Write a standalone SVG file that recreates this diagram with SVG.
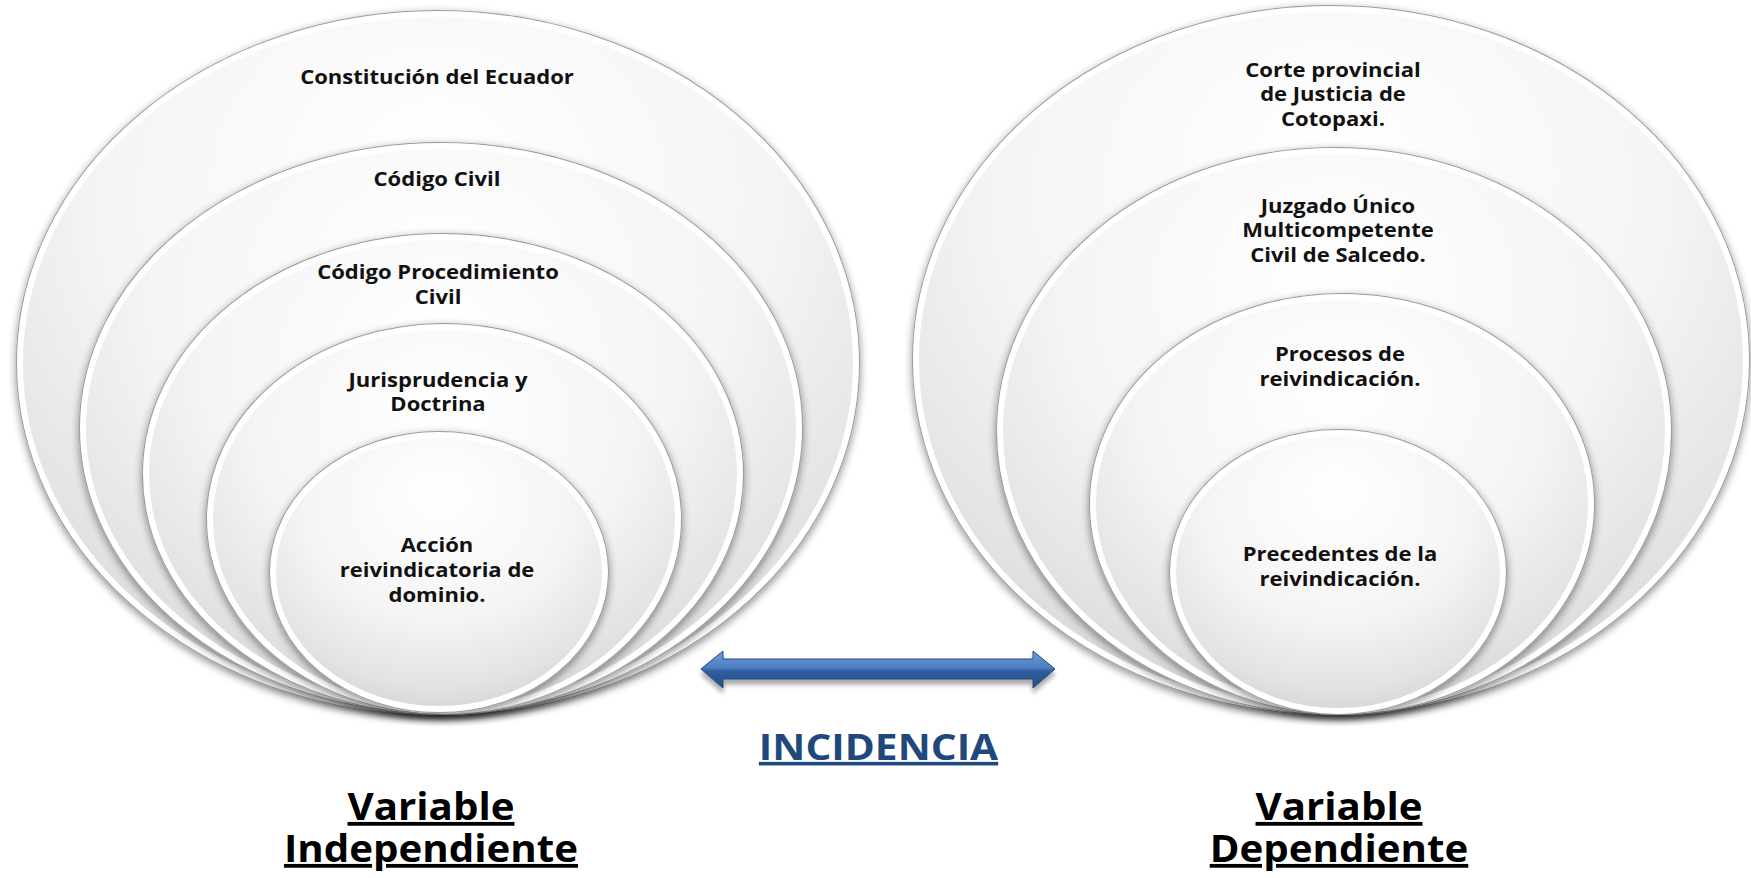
<svg xmlns="http://www.w3.org/2000/svg" width="1751" height="878" viewBox="0 0 1751 878">
<defs>
<radialGradient id="g" cx="0.5" cy="0.32" r="0.72" fx="0.5" fy="0.2">
<stop offset="0" stop-color="#ffffff"/>
<stop offset="0.55" stop-color="#f5f5f5"/>
<stop offset="0.85" stop-color="#e3e3e3"/>
<stop offset="1" stop-color="#d2d2d2"/>
</radialGradient>
<filter id="sh" x="-10%" y="-10%" width="120%" height="125%">
<feGaussianBlur in="SourceAlpha" stdDeviation="4"/>
<feOffset dy="3" result="b"/>
<feComponentTransfer><feFuncA type="linear" slope="0.45"/></feComponentTransfer>
<feMerge><feMergeNode/><feMergeNode in="SourceGraphic"/></feMerge>
</filter>
<linearGradient id="ag" x1="0" y1="0" x2="0" y2="1">
<stop offset="0" stop-color="#6d9dd9"/>
<stop offset="0.45" stop-color="#4c7ec2"/>
<stop offset="0.55" stop-color="#2f5d9d"/>
<stop offset="1" stop-color="#254d88"/>
</linearGradient>
<filter id="ash" x="-5%" y="-50%" width="110%" height="220%">
<feGaussianBlur in="SourceAlpha" stdDeviation="2.5"/>
<feOffset dy="5" result="b"/>
<feComponentTransfer><feFuncA type="linear" slope="0.35"/></feComponentTransfer>
<feMerge><feMergeNode/><feMergeNode in="SourceGraphic"/></feMerge>
</filter>
</defs>
<style>
.edge{fill:#ffffff;stroke:#9c9c9c;stroke-width:8;filter:url(#sh)}
.ring{fill:url(#g);stroke:#ffffff;stroke-width:6}
.t{font-family:"Open Sans","Noto Sans","Liberation Sans",sans-serif;font-weight:700;font-size:19.5px;fill:#111111;text-anchor:middle}
.v{font-family:"Open Sans","Noto Sans","Liberation Sans",sans-serif;font-weight:700;font-size:38px;fill:#000000;text-anchor:middle;text-decoration:underline}
.inc{font-family:"Open Sans","Noto Sans","Liberation Sans",sans-serif;font-weight:700;font-size:36px;fill:#1f497d;text-anchor:middle;text-decoration:underline}
</style>
<rect width="1751" height="878" fill="#ffffff"/>

<g id="n-constitucion">
<ellipse class="edge" cx="438" cy="363" rx="418" ry="349"/>
<ellipse class="ring" cx="438" cy="363" rx="418" ry="349"/>
<g transform="translate(437 0) scale(1.13 1)"><text class="t" y="84">Constitución del Ecuador</text></g>
</g>
<g id="n-codigo-civil">
<ellipse class="edge" cx="441" cy="428" rx="358" ry="282"/>
<ellipse class="ring" cx="441" cy="428" rx="358" ry="282"/>
<g transform="translate(437 0) scale(1.13 1)"><text class="t" y="186">Código Civil</text></g>
</g>
<g id="n-codigo-procedimiento">
<ellipse class="edge" cx="443" cy="474" rx="297" ry="237"/>
<ellipse class="ring" cx="443" cy="474" rx="297" ry="237"/>
<g transform="translate(438 0) scale(1.13 1)"><text class="t" y="279">Código Procedimiento</text><text class="t" y="304">Civil</text></g>
</g>
<g id="n-jurisprudencia">
<ellipse class="edge" cx="444" cy="519" rx="234" ry="192"/>
<ellipse class="ring" cx="444" cy="519" rx="234" ry="192"/>
<g transform="translate(438 0) scale(1.13 1)"><text class="t" y="387">Jurisprudencia y</text><text class="t" y="411">Doctrina</text></g>
</g>
<g id="n-accion">
<ellipse class="edge" cx="439" cy="572" rx="166" ry="137"/>
<ellipse class="ring" cx="439" cy="572" rx="166" ry="137"/>
<g transform="translate(437 0) scale(1.13 1)"><text class="t" y="552">Acción</text><text class="t" y="577">reivindicatoria de</text><text class="t" y="602">dominio.</text></g>
</g>

<g id="n-corte">
<ellipse class="edge" cx="1331" cy="360" rx="415" ry="351"/>
<ellipse class="ring" cx="1331" cy="360" rx="415" ry="351"/>
<g transform="translate(1333 0) scale(1.13 1)"><text class="t" y="77">Corte provincial</text><text class="t" y="101.5">de Justicia de</text><text class="t" y="126">Cotopaxi.</text></g>
</g>
<g id="n-juzgado">
<ellipse class="edge" cx="1334" cy="431" rx="334" ry="280"/>
<ellipse class="ring" cx="1334" cy="431" rx="334" ry="280"/>
<g transform="translate(1338 0) scale(1.13 1)"><text class="t" y="213">Juzgado Único</text><text class="t" y="237.5">Multicompetente</text><text class="t" y="262">Civil de Salcedo.</text></g>
</g>
<g id="n-procesos">
<ellipse class="edge" cx="1342" cy="504" rx="249" ry="207"/>
<ellipse class="ring" cx="1342" cy="504" rx="249" ry="207"/>
<g transform="translate(1340 0) scale(1.13 1)"><text class="t" y="361">Procesos de</text><text class="t" y="386">reivindicación.</text></g>
</g>
<g id="n-precedentes">
<ellipse class="edge" cx="1338" cy="572" rx="165" ry="139"/>
<ellipse class="ring" cx="1338" cy="572" rx="165" ry="139"/>
<g transform="translate(1340 0) scale(1.13 1)"><text class="t" y="561">Precedentes de la</text><text class="t" y="586">reivindicación.</text></g>
</g>

<g id="connectors">
<polygon points="701,669 723,651 723,659 1033,659 1033,651 1055,669 1033,688 1033,679 723,679 723,688" fill="url(#ag)" stroke="#24487e" stroke-width="1" filter="url(#ash)"/>
</g>

<g id="label-incidencia">
<g transform="translate(878.5 0) scale(1.13 1)"><text class="inc" y="760">INCIDENCIA</text></g>
</g>
<g id="label-independiente">
<g transform="translate(431 0) scale(1.06 1)"><text class="v" y="820">Variable</text><text class="v" y="862">Independiente</text></g>
</g>
<g id="label-dependiente">
<g transform="translate(1339 0) scale(1.06 1)"><text class="v" y="820">Variable</text><text class="v" y="862">Dependiente</text></g>
</g>
</svg>
